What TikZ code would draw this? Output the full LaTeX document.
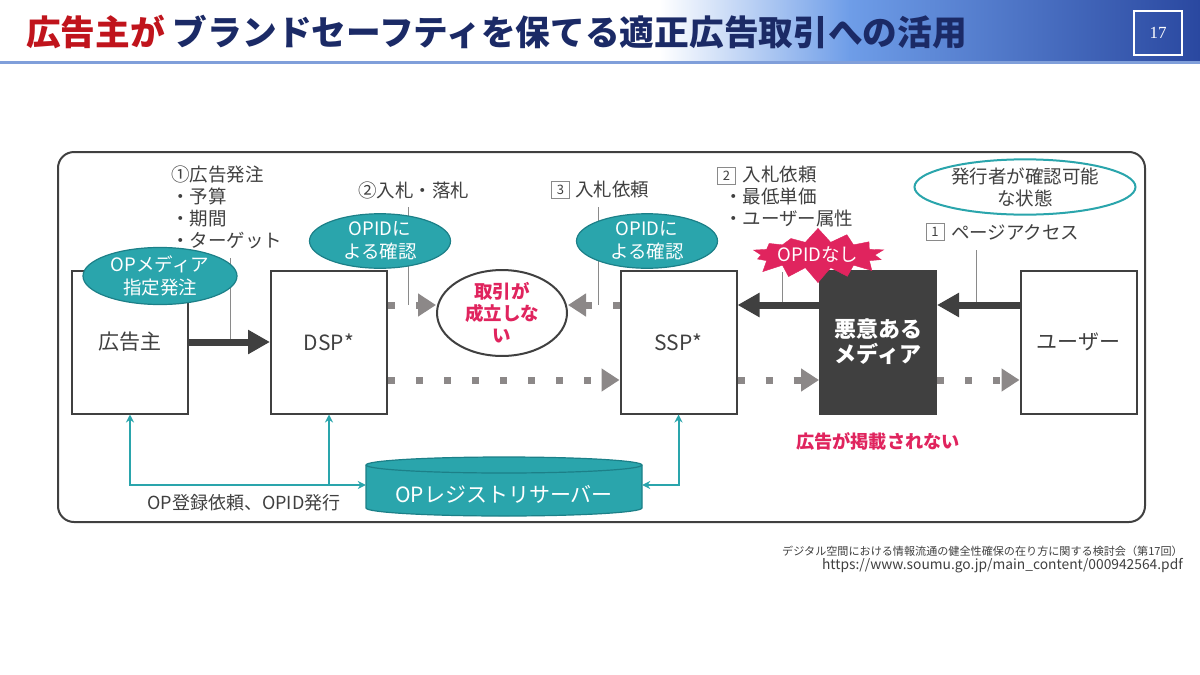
\documentclass[tikz,border=0pt]{standalone}
\usepackage{fontspec}
\setmainfont{Noto Sans CJK JP}
\newfontfamily\numfont{Liberation Serif}
\usetikzlibrary{arrows.meta,shapes.geometric,shapes.symbols}
\definecolor{txt}{HTML}{404040}
\definecolor{dark}{HTML}{404040}
\definecolor{tealc}{HTML}{2AA5AC}
\definecolor{tealdk}{HTML}{1C8088}
\definecolor{redc}{HTML}{E0245E}
\definecolor{titlered}{HTML}{C0141C}
\definecolor{navy}{HTML}{1B2A66}
\definecolor{dotgray}{HTML}{8C8888}
\definecolor{callgray}{HTML}{8A8A8A}
\definecolor{bandA}{HTML}{6E9DE8}
\definecolor{bandB}{HTML}{2A48A0}
\definecolor{uline}{HTML}{809FDA}
\newcommand{\fsz}[2]{\fontsize{#1}{#2}\selectfont}
\begin{document}
\begin{tikzpicture}[x=1pt,y=-1pt,
  box/.style={draw=dark, line width=2pt, fill=white, minimum width=116pt, minimum height=143pt, inner sep=0pt, font=\fsz{21}{25}, text=txt, align=center},
  tealell/.style={ellipse, draw=tealdk, line width=1.2pt, fill=tealc, text=white, inner sep=0pt, font=\fsz{18.5}{23}, align=center},
  lbl/.style={text=txt, font=\fsz{18.5}{22}, inner sep=0pt, align=left, anchor=north west},
  numbox/.style={draw=callgray, line width=0.8pt, minimum width=18pt, minimum height=17pt, inner sep=0pt, font=\fsz{13}{13}, text=txt},
  callout/.style={draw=callgray, line width=1pt},
  bigarrow/.style={draw=dark, line width=7pt, -{Triangle[length=22pt,width=23pt]}},
  dotarrow/.style={draw=dotgray, line width=7pt, dash pattern=on 7pt off 21pt, -{Triangle[length=18pt,width=22pt]}},
  tealline/.style={draw=tealc, line width=2pt, {Stealth[length=8pt,width=8pt]}-{Stealth[length=8pt,width=8pt]}},
  tealone/.style={draw=tealc, line width=2pt, -{Stealth[length=8pt,width=8pt]}}
]
\useasboundingbox (0,0) rectangle (1200,675);
\fill[white] (0,0) rectangle (1200,675);
% title band
\shade[left color=white, right color=bandA] (660,0) rectangle (850,60);
\shade[left color=bandA, right color=bandB] (849.5,0) rectangle (1200,60);
\draw[uline, line width=3pt] (0,62) -- (1200,62);
\node[anchor=west, inner sep=0pt, font=\fsz{34.7}{40}\bfseries] (title) at (26,32)
  {\textcolor{titlered}{広告主が} \textcolor{navy}{ブランドセーフティを保てる適正広告取引への活用}};
\node[draw=white, line width=1.5pt, minimum width=48pt, minimum height=44pt, inner sep=0pt, text=white, font=\numfont\fsz{17}{20}] (pg) at (1158,33) {17};

% frame
\draw[dark, line width=2pt, rounded corners=16pt] (58,152) rectangle (1145,522);

% rows
\coordinate (rowA) at (0,305);
\coordinate (rowB) at (0,380);
\coordinate (rowC) at (0,485);

% callout lines
\coordinate (c1) at (230,258); \coordinate (c1e) at (230,342);
\coordinate (c2) at (408,207);
\coordinate (c3) at (598,207);
\coordinate (c4) at (782,272);
\coordinate (c5) at (976,250);
\draw[callout] (c1) -- (c1e);
\draw[callout] (c2) -- (c2 |- rowA);
\draw[callout] (c3) -- (c3 |- rowA);
\draw[callout] (c4) -- (c4 |- rowA);
\draw[callout] (c5) -- (c5 |- rowA);

% boxes
\node[box] (adv) at (130,342) {広告主};
\node[box] (dsp) at (329,342) {DSP*};
\node[box] (ssp) at (678.5,342) {SSP*};
\node[box, fill=dark, text=white, font=\fsz{22}{25}\bfseries] (mal) at (878,342) {悪意ある\\メディア};
\node[box] (usr) at (1078.5,342) {ユーザー};

% ellipses
\node[tealell, minimum width=154pt, minimum height=52pt] (opm) at (160,276) {OPメディア\\指定発注};
\node[tealell, minimum width=141pt, minimum height=48pt] (opid1) at (380,241) {OPIDに\\よる確認};
\node[tealell, minimum width=141pt, minimum height=48pt] (opid2) at (647,241) {OPIDに\\よる確認};
\node[ellipse, draw=tealc, line width=2pt, minimum width=221pt, minimum height=55pt, inner sep=0pt, text=txt, font=\fsz{18.5}{22}, align=center] (pub) at (1025,187) {発行者が確認可能\\な状態};
\node[ellipse, draw=dark, line width=2pt, fill=white, minimum width=130pt, minimum height=85pt, inner sep=0pt, text=redc, font=\fsz{18.5}{22}\bfseries, align=center] (ng) at (502,313) {取引が\\成立しな\\い};
\node[starburst, fill=redc, draw=redc, minimum width=143pt, minimum height=56pt, starburst points=14, starburst point height=15pt, random starburst=7, inner sep=0pt, text=white, font=\fsz{18.5}{22}] (nope) at (818,255) {OPIDなし};

% labels
\node[lbl] (l1) at (171,166) {①広告発注\\・予算\\・期間\\・ターゲット};
\node[lbl] (l2) at (358,182) {②入札・落札};
\node[numbox] (n3) at (560.5,190) {3};
\node[lbl] (l3) at (575,181) {入札依頼};
\node[numbox] (n2) at (726.5,175.5) {2};
\node[lbl] (l4) at (724,166) {\phantom{・}入札依頼\\・最低単価\\・ユーザー属性};
\node[numbox] (n1) at (935,232) {1};
\node[lbl] (l5) at (951,224) {ページアクセス};

% arrows
\draw[bigarrow] (adv) -- (dsp);
\draw[bigarrow] (mal.west |- rowA) -- (ssp.east |- rowA);
\draw[bigarrow] (usr.west |- rowA) -- (mal.east |- rowA);
\draw[dotarrow] (dsp.east |- rowA) -- (ng.west |- rowA);
\draw[dotarrow] (ssp.west |- rowA) -- (ng.east |- rowA);
\draw[dotarrow] (dsp.east |- rowB) -- (ssp.west |- rowB);
\draw[dotarrow] (ssp.east |- rowB) -- (mal.west |- rowB);
\draw[dotarrow] (mal.east |- rowB) -- (usr.west |- rowB);

\node[text=redc, font=\fsz{18.2}{22}\bfseries, inner sep=0pt] (noad) at (878,441) {広告が掲載されない};

% registry cylinder
\path[fill=tealc, draw=tealdk, line width=1.2pt] (366,465) -- (366,508)
  arc[start angle=180, end angle=360, x radius=138pt, y radius=8pt] -- (642,465)
  arc[start angle=0, end angle=180, x radius=138pt, y radius=8pt] -- cycle;
\draw[tealdk, line width=1.2pt] (366,465) arc[start angle=180, end angle=360, x radius=138pt, y radius=8pt];
\node[font=\fsz{21}{25}, text=white, minimum width=276pt, inner sep=0pt] (reg) at (504,494) {OPレジストリサーバー};

\draw[tealline] (adv.south) -- (adv.south |- rowC) -- (reg.west |- rowC);
\draw[tealone] (dsp.south |- rowC) -- (dsp.south);
\draw[tealline] (ssp.south) -- (ssp.south |- rowC) -- (reg.east |- rowC);
\node[text=txt, font=\fsz{18}{22}, inner sep=0pt] (reglbl) at (244,503) {OP登録依頼、OPID発行};

% source
\node[anchor=east, inner sep=0pt, text=txt, font=\fsz{11.1}{14}] (src1) at (1183,551) {デジタル空間における情報流通の健全性確保の在り方に関する検討会（第17回）};
\node[anchor=east, inner sep=0pt, text=txt, font=\fsz{13.8}{16}] (src2) at (1183,566) {https://www.soumu.go.jp/main\_content/000942564.pdf};
\end{tikzpicture}
\end{document}
